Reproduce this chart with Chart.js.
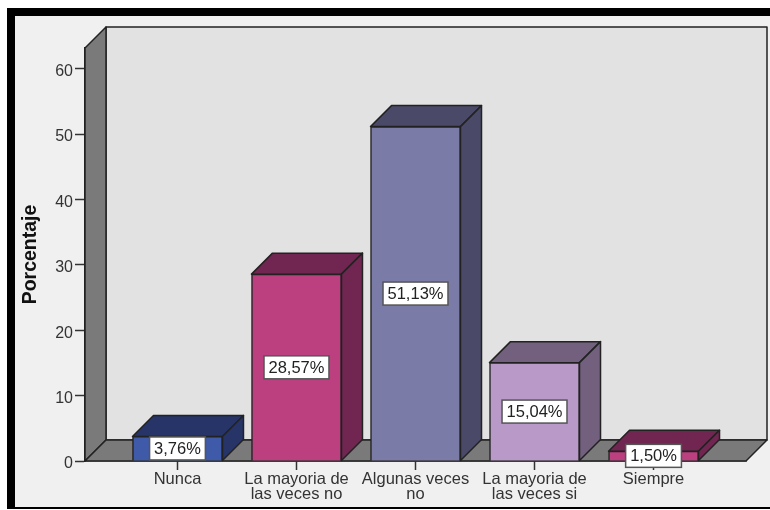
<!DOCTYPE html>
<html lang="es">
<head>
<meta charset="utf-8">
<title>Porcentaje</title>
<script src="https://cdn.jsdelivr.net/npm/chart.js@4"></script>
<style>
    html, body { margin: 0; padding: 0; background: #fff; }
    #wrap { width: 770px; height: 510px; }
</style>
</head>
<body>
<div id="wrap"><canvas id="grafico"></canvas></div>
<script>
// Datos
const categorias = [['Nunca'], ['La mayoria de', 'las veces no'], ['Algunas veces', 'no'], ['La mayoria de', 'las veces si'], ['Siempre']];
const porcentajes = [3.76, 28.57, 51.13, 15.04, 1.5];
const etiquetas = ['3,76%', '28,57%', '51,13%', '15,04%', '1,50%'];
const ticksY = [0, 10, 20, 30, 40, 50, 60];

// Colores de cada barra
const colorFrente = ['#3f5aa8', '#bc3f7f', '#7b7ba8', '#b899c8', '#bc3f7f'];
const colorOscuro = ['#263468', '#702650', '#4a4a68', '#72607e', '#702650'];

const PROF = 21; // profundidad del efecto 3D
const LINEA = '#222';

function poligono(ctx, puntos, relleno) {
    ctx.beginPath();
    puntos.forEach((p, i) => i ? ctx.lineTo(p[0], p[1]) : ctx.moveTo(p[0], p[1]));
    ctx.closePath();
    ctx.fillStyle = relleno;
    ctx.fill();
    ctx.lineWidth = 1.5;
    ctx.strokeStyle = LINEA;
    ctx.lineJoin = 'round';
    ctx.stroke();
}

// Fondo de la ventana con el marco negro
const marco = {
    id: 'marco',
    beforeDraw(chart) {
        const ctx = chart.ctx;
        ctx.save();
        ctx.fillStyle = '#fff';
        ctx.fillRect(0, 0, chart.width, chart.height);
        ctx.fillStyle = '#000';
        ctx.fillRect(7, 8, chart.width - 7, 501);
        ctx.fillStyle = '#f0f0f0';
        ctx.fillRect(15, 16, chart.width - 15, 491);
        ctx.restore();
    }
};

// Paredes, suelo y caras laterales de las barras
const caja3d = {
    id: 'caja3d',
    beforeDatasetsDraw(chart) {
        const ctx = chart.ctx;
        const { left, right, top, bottom } = chart.chartArea;
        ctx.save();
        poligono(ctx, [[left + PROF, top - PROF], [right + PROF, top - PROF], [right + PROF, bottom - PROF], [left + PROF, bottom - PROF]], '#e2e2e2');
        poligono(ctx, [[left, top], [left + PROF, top - PROF], [left + PROF, bottom - PROF], [left, bottom]], '#7a7a7a');
        poligono(ctx, [[left, bottom], [left + PROF, bottom - PROF], [right + PROF, bottom - PROF], [right, bottom]], '#7a7a7a');

        chart.getDatasetMeta(0).data.forEach((bar, i) => {
            const x0 = bar.x - bar.width / 2;
            const x1 = bar.x + bar.width / 2;
            poligono(ctx, [[x0, bar.y], [x0 + PROF, bar.y - PROF], [x1 + PROF, bar.y - PROF], [x1, bar.y]], colorOscuro[i]);
            poligono(ctx, [[x1, bar.y], [x1 + PROF, bar.y - PROF], [x1 + PROF, bar.base - PROF], [x1, bar.base]], colorOscuro[i]);
        });
        ctx.restore();
    }
};

// Etiquetas blancas con el porcentaje en el centro de cada barra
const rotulos = {
    id: 'rotulos',
    afterDatasetsDraw(chart) {
        const ctx = chart.ctx;
        ctx.save();
        ctx.font = '16.5px "Liberation Sans"';
        ctx.textAlign = 'center';
        ctx.textBaseline = 'middle';
        chart.getDatasetMeta(0).data.forEach((bar, i) => {
            const cy = (bar.y + bar.base) / 2;
            const w = ctx.measureText(etiquetas[i]).width + 9;
            const h = 23;
            ctx.fillStyle = '#fff';
            ctx.fillRect(bar.x - w / 2, cy - h / 2, w, h);
            ctx.lineWidth = 1.5;
            ctx.strokeStyle = '#555';
            ctx.strokeRect(bar.x - w / 2, cy - h / 2, w, h);
            ctx.fillStyle = '#222';
            ctx.fillText(etiquetas[i], bar.x, cy + 1);
        });
        ctx.restore();
    }
};

new Chart(document.getElementById('grafico'), {
    type: 'bar',
    data: {
        datasets: [{
            data: porcentajes.map((v, i) => ({ x: i + 1, y: v })),
            backgroundColor: colorFrente,
            borderColor: LINEA,
            borderWidth: 1.5,
            barThickness: 90
        }]
    },
    plugins: [marco, caja3d, rotulos],
    options: {
        responsive: true,
        maintainAspectRatio: false,
        animation: false,
        layout: { padding: { top: 48, right: 24 } },
        plugins: { legend: { display: false }, tooltip: { enabled: false } },
        scales: {
            x: {
                type: 'linear',
                offset: false,
                min: 0.223,
                max: 5.777,
                afterBuildTicks: scale => { scale.ticks = categorias.map((c, i) => ({ value: i + 1 })); },
                afterFit: scale => { scale.height = 49; },
                grid: { offset: false, drawOnChartArea: false, tickLength: 9, tickColor: '#333', tickWidth: 1.5 },
                border: { color: LINEA, width: 1.5 },
                ticks: {
                    autoSkip: false,
                    maxRotation: 0,
                    padding: 2,
                    color: '#333',
                    font: { family: '"Liberation Sans"', size: 16.5, lineHeight: 0.92 },
                    callback: v => categorias[v - 1]
                }
            },
            y: {
                min: 0,
                max: 63.15,
                afterBuildTicks: scale => { scale.ticks = ticksY.map(v => ({ value: v })); },
                afterFit: scale => { scale.width = 85; },
                grid: { drawOnChartArea: false, tickLength: 10, tickColor: '#333', tickWidth: 1.5 },
                border: { color: LINEA, width: 1.5 },
                title: {
                    display: true,
                    text: 'Porcentaje',
                    color: '#111',
                    font: { family: '"Liberation Sans"', size: 19.5, weight: 'bold' },
                    padding: { top: 19, bottom: 0 }
                },
                ticks: {
                    padding: 2,
                    labelOffset: 3,
                    color: '#333',
                    font: { family: '"Liberation Sans"', size: 16 }
                }
            }
        }
    }
});
</script>
</body>
</html>
